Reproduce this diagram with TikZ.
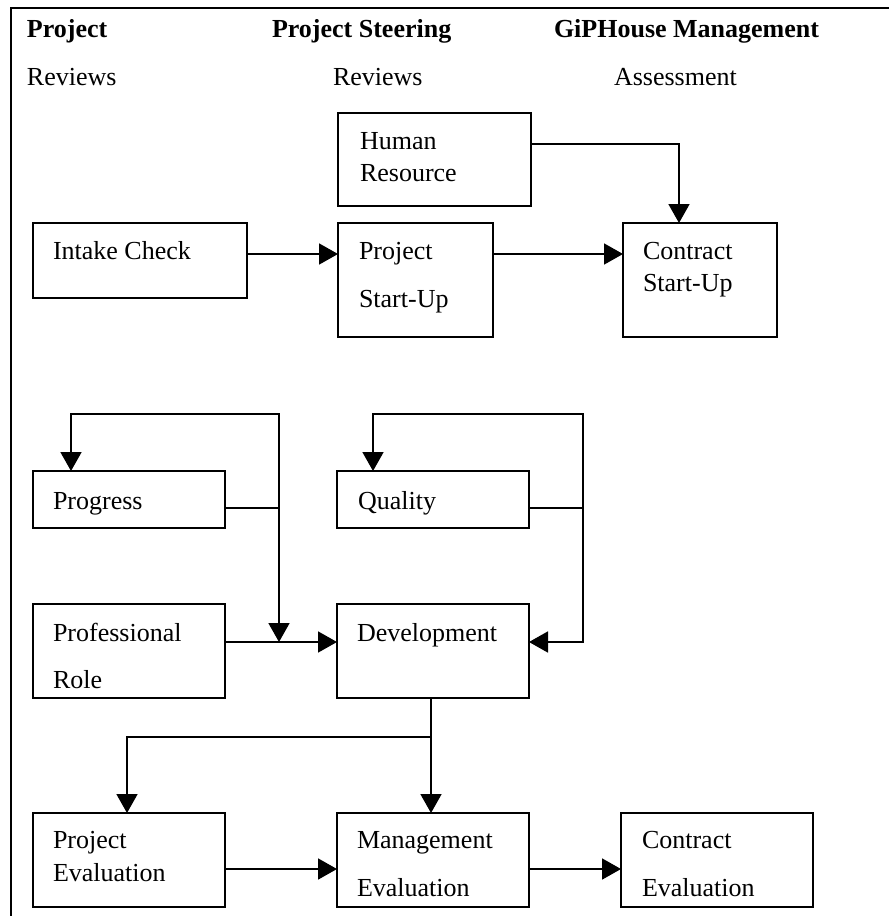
\documentclass[tikz,border=0pt]{standalone}
\usepackage{fontspec}
\setmainfont{Liberation Serif}
\usetikzlibrary{arrows.meta}
\begin{document}
\begin{tikzpicture}[x=1pt,y=-1pt,
  box/.style={draw, line width=1.8pt, rectangle, inner sep=0pt, outer sep=0pt},
  txt/.style={anchor=base west, inner sep=0pt, outer sep=0pt, font=\fontsize{26}{31}\selectfont},
  hdr/.style={txt, font=\fontsize{26}{31}\selectfont\bfseries},
  conn/.style={line width=1.8pt},
  arr/.style={conn, -{Triangle[length=19pt,width=21pt]}}]
\useasboundingbox (0,0) rectangle (889,916);
% frame
\draw[line width=2pt] (11,916) -- (11,8) -- (889,8);
% headers
\node[hdr] (h1) at (27,37) {Project};
\node[hdr] (h2) at (272,37) {Project Steering};
\node[hdr] (h3) at (554,37) {GiPHouse Management};
\node[txt] (s1) at (27,85) {Reviews};
\node[txt] (s2) at (333,85) {Reviews};
\node[txt] (s3) at (614,85) {Assessment};
% boxes
\node[box, minimum width=214pt, minimum height=75pt] (intake) at (140,260.5) {};
\node[box, minimum width=193pt, minimum height=93pt] (hr) at (434.5,159.5) {};
\node[box, minimum width=155pt, minimum height=114pt] (psu) at (415.5,280) {};
\node[box, minimum width=154pt, minimum height=114pt] (csu) at (700,280) {};
\node[box, minimum width=192pt, minimum height=57pt] (progress) at (129,499.5) {};
\node[box, minimum width=192pt, minimum height=57pt] (quality) at (433,499.5) {};
\node[box, minimum width=192pt, minimum height=94pt] (prof) at (129,651) {};
\node[box, minimum width=192pt, minimum height=94pt] (dev) at (433,651) {};
\node[box, minimum width=192pt, minimum height=94pt] (peval) at (129,860) {};
\node[box, minimum width=192pt, minimum height=94pt] (meval) at (433,860) {};
\node[box, minimum width=192pt, minimum height=94pt] (ceval) at (717,860) {};
% texts
\node[txt] (t1) at (53,259) {Intake Check};
\node[txt] (t2a) at (360,149) {Human};
\node[txt] (t2b) at (360,181) {Resource};
\node[txt] (t3a) at (359,259) {Project};
\node[txt] (t3b) at (359,307) {Start-Up};
\node[txt] (t4a) at (643,259) {Contract};
\node[txt] (t4b) at (643,291) {Start-Up};
\node[txt] (t5) at (53,509) {Progress};
\node[txt] (t6) at (358,509) {Quality};
\node[txt] (t7a) at (53,641) {Professional};
\node[txt] (t7b) at (53,688) {Role};
\node[txt] (t8) at (357,641) {Development};
\node[txt] (t9a) at (53,848) {Project};
\node[txt] (t9b) at (53,881) {Evaluation};
\node[txt] (t10a) at (357,848) {Management};
\node[txt] (t10b) at (357,896) {Evaluation};
\node[txt] (t11a) at (642,848) {Contract};
\node[txt] (t11b) at (642,896) {Evaluation};
% helper coordinates
\coordinate (y254) at (0,254);
\coordinate (hrc) at (679,144);
\coordinate (p508) at (0,508);
\coordinate (ptop) at (279,414);
\coordinate (pl) at (71,414);
\coordinate (pjoin) at (279,642);
\coordinate (qtop) at (583,414);
\coordinate (ql) at (373,414);
\coordinate (y642) at (0,642);
\coordinate (dx) at (431,0);
\coordinate (branch) at (431,737);
\coordinate (pex) at (127,0);
\coordinate (y869) at (0,869);
% connectors
\draw[arr] (intake.east |- y254) -- (psu.west |- y254);
\draw[arr] (psu.east |- y254) -- (csu.west |- y254);
\draw[arr] (hr.east |- hrc) -| (csu.north -| hrc);
\draw[arr] (progress.east |- p508) -| (ptop) -| (progress.north -| pl);
\draw[arr] (ptop) -- (pjoin);
\draw[arr] (prof.east |- y642) -- (dev.west |- y642);
\draw[arr] (quality.east |- p508) -| (qtop) -| (quality.north -| ql);
\draw[arr] (qtop) |- (dev.east |- y642);
\draw[arr] (dev.south -| dx) -- (meval.north -| dx);
\draw[arr] (branch) -| (peval.north -| pex);
\draw[arr] (peval.east |- y869) -- (meval.west |- y869);
\draw[arr] (meval.east |- y869) -- (ceval.west |- y869);
\end{tikzpicture}
\end{document}
